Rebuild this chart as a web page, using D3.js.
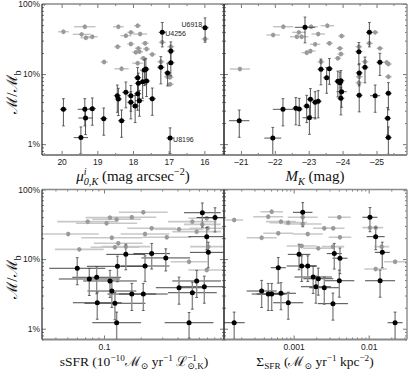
<!DOCTYPE html>
<html><head><meta charset="utf-8">
<script src="https://cdn.jsdelivr.net/npm/d3@7"></script>
<style>body{margin:0;background:#fff}svg{display:block}</style>
</head><body>
<svg id="c" width="415" height="378"></svg>
<script>
// ---------- DATA ----------
// Each black entry: [x, M/Mb (%), x error, fractional y error]; gray entry: [x, M/Mb (%), x error]
// Top-left: x = mu^i_{0,K} (mag arcsec^-2)
const muBlack = [
 [15.98,45.9,0.1,0.38],[17.18,39.4,0.1,0.38],[16.94,21.3,0.1,0.35],[16.94,14.5,0.1,0.35],
 [17.22,12.5,0.1,0.42],[17.64,11.8,0.1,0.4],[17.68,11.4,0.12,0.4],[17.03,10.4,0.1,0.35],
 [17.87,8.87,0.1,0.4],[17.62,7.96,0.1,0.4],[17.73,7.78,0.15,0.42],[17.85,7.38,0.1,0.4],
 [18.20,5.50,0.1,0.4],[17.87,5.25,0.1,0.42],[18.44,4.91,0.1,0.42],[18.06,4.91,0.1,0.4],
 [17.46,4.45,0.1,0.42],[18.41,4.41,0.1,0.42],[17.82,4.17,0.12,0.4],[18.06,3.95,0.1,0.42],
 [17.94,3.50,0.1,0.42],[19.14,3.21,0.1,0.42],[19.95,3.14,0.1,0.42],[19.35,3.14,0.2,0.42],
 [19.33,2.36,0.2,0.42],[18.82,2.31,0.1,0.42],[18.32,2.16,0.1,0.42],[19.46,1.24,0.2,0.42],
 [16.96,1.22,0.1,0.4]
];
const muGray = [
 [19.95,40.2,0.15],[19.35,47.4,0.3],[19.44,36.9,0.25],[19.32,33.0,0.15],[19.14,34.1,0.15],
 [18.81,14.9,0.1],[18.43,24.6,0.1],[18.41,47.4,0.15],[18.32,11.9,0.2],[18.20,35.3,0.15],
 [18.06,39.4,0.1],[18.06,26.9,0.1],[17.92,20.5,0.1],[17.87,49.0,0.1],[17.85,23.3,0.1],
 [17.87,14.3,0.15],[17.80,37.3,0.2],[17.82,20.9,0.1],[17.71,16.8,0.1],[17.66,27.5,0.1],
 [17.62,22.8,0.1],[17.46,19.1,0.1],[17.22,15.0,0.1],[17.18,28.4,0.1],[17.03,9.17,0.1],
 [16.96,9.0,0.1],[16.96,7.15,0.1],[16.94,24.6,0.1],[15.98,31.7,0.1]
];
const muLabels = [["U6918",15.98,45.9,"end"],["U4256",17.18,39.4,"start"],["U8196",16.96,1.22,"start"]];

// Top-right: x = M_K (mag)
const mkBlack = [
 [-22.89,46.5,0.3,0.4],[-24.79,39.4,0.1,0.38],[-24.48,20.9,0.1,0.35],[-25.10,14.7,0.1,0.35],
 [-24.66,12.5,0.1,0.4],[-23.61,11.9,0.1,0.4],[-23.36,11.7,0.1,0.4],[-24.49,10.4,0.1,0.35],
 [-23.53,8.87,0.1,0.4],[-23.95,8.04,0.1,0.4],[-23.86,7.88,0.1,0.4],[-23.92,7.53,0.1,0.42],
 [-23.97,5.60,0.15,0.4],[-25.35,5.32,0.1,0.42],[-24.49,4.98,0.1,0.42],[-24.96,4.91,0.15,0.42],
 [-23.95,4.51,0.1,0.42],[-23.05,4.37,0.1,0.42],[-23.28,4.09,0.1,0.42],[-23.19,3.95,0.1,0.42],
 [-22.94,3.50,0.1,0.42],[-22.62,3.25,0.1,0.42],[-22.72,3.17,0.1,0.42],[-22.24,3.14,0.3,0.42],
 [-23.02,2.38,0.2,0.42],[-25.33,2.34,0.1,0.42],[-20.95,2.16,0.3,0.42],[-21.94,1.22,0.25,0.42],
 [-25.35,1.24,0.1,0.42]
];
const mkGray = [
 [-20.97,11.8,0.3],[-21.95,36.1,0.2],[-22.25,47.4,0.3],[-22.65,34.1,0.2],[-22.71,39.4,0.2],
 [-23.07,47.4,0.2],[-23.55,49.0,0.2],[-22.79,34.1,0.2],[-22.94,20.2,0.15],[-23.05,21.3,0.15],
 [-23.19,26.6,0.15],[-23.28,37.3,0.2],[-23.36,15.0,0.1],[-23.61,27.5,0.1],[-23.86,16.8,0.1],
 [-23.92,23.3,0.1],[-23.95,19.3,0.1],[-23.97,34.9,0.1],[-24.48,24.6,0.1],[-24.48,7.53,0.1],
 [-24.49,9.17,0.1],[-24.66,15.0,0.1],[-24.79,27.5,0.1],[-24.96,39.4,0.1],[-25.10,23.3,0.1],
 [-25.30,14.7,0.1],[-25.35,13.9,0.1],[-25.35,9.17,0.1]
];

// Bottom-left: x = sSFR (x error in dex)
const ssfrBlack = [
 [0.0604,7.38,0.23,0.42],[0.0758,5.18,0.25,0.42],[0.0871,5.48,0.2,0.42],[0.0881,2.36,0.2,0.42],
 [0.112,4.85,0.22,0.42],[0.116,3.48,0.2,0.42],[0.123,2.32,0.25,0.42],[0.127,1.22,0.2,0.42],
 [0.129,7.88,0.25,0.4],[0.151,11.7,0.16,0.4],[0.169,3.15,0.2,0.42],[0.210,3.15,0.2,0.42],
 [0.217,7.96,0.2,0.4],[0.246,12.0,0.15,0.4],[0.321,10.4,0.2,0.35],[0.412,3.88,0.19,0.42],
 [0.498,1.22,0.2,0.4],[0.530,3.29,0.2,0.42],[0.575,4.85,0.2,0.42],[0.640,46.4,0.15,0.38],
 [0.664,4.01,0.2,0.42],[0.695,21.0,0.15,0.35],[0.716,12.5,0.15,0.4],[0.813,39.6,0.15,0.38]
];
const ssfrGray = [
 [0.0509,22.9,0.25],[0.0628,13.8,0.2],[0.0735,34.5,0.25],[0.105,32.7,0.25],[0.112,39.4,0.2],
 [0.116,20.3,0.25],[0.123,14.8,0.2],[0.127,37.3,0.2],[0.131,16.9,0.2],[0.151,15.1,0.2],
 [0.169,39.9,0.2],[0.210,47.0,0.2],[0.217,22.9,0.2],[0.246,27.7,0.2],[0.327,20.6,0.2],
 [0.412,26.8,0.2],[0.498,9.18,0.15],[0.530,34.5,0.2],[0.575,24.8,0.2],[0.640,31.6,0.15],
 [0.695,38.6,0.15],[0.695,6.97,0.15],[0.716,15.1,0.15],[0.708,27.7,0.15]
];

// Bottom-right: x = Sigma_SFR (x error in dex)
const sigBlack = [
 [1.61e-4,1.22,0.14,0.42],[3.74e-4,3.48,0.2,0.42],[4.58e-4,3.15,0.22,0.42],[5.09e-4,3.15,0.2,0.42],
 [6.24e-4,7.52,0.1,0.4],[6.77e-4,3.23,0.2,0.42],[8.47e-4,2.36,0.2,0.42],[1.18e-3,11.7,0.15,0.4],
 [1.28e-3,7.96,0.2,0.4],[1.32e-3,47.0,0.13,0.38],[1.54e-3,7.96,0.12,0.4],[1.82e-3,5.53,0.25,0.42],
 [1.98e-3,4.01,0.2,0.42],[2.13e-3,5.23,0.2,0.42],[2.56e-3,3.88,0.2,0.42],[3.34e-3,2.29,0.2,0.42],
 [3.48e-3,12.0,0.1,0.4],[4.06e-3,4.89,0.2,0.42],[4.14e-3,10.3,0.1,0.4],[0.0104,39.9,0.1,0.38],
 [0.0124,21.0,0.12,0.35],[0.0142,4.89,0.2,0.42],[0.0152,12.5,0.1,0.4],[0.0225,1.22,0.1,0.42]
];
const sigGray = [
 [1.61e-4,36.5,0.12],[3.74e-4,20.3,0.2],[4.58e-4,40.7,0.2],[5.09e-4,48.0,0.15],[6.24e-4,23.5,0.2],
 [6.77e-4,34.5,0.2],[8.47e-4,33.4,0.25],[1.32e-3,31.9,0.25],[1.32e-3,39.9,0.2],[1.28e-3,15.4,0.2],
 [1.54e-3,22.9,0.2],[2.13e-3,14.3,0.2],[2.56e-3,27.7,0.15],[3.37e-3,27.7,0.15],[3.34e-3,15.1,0.15],
 [4.06e-3,39.9,0.15],[4.14e-3,20.6,0.15],[0.0104,28.3,0.1],[0.0124,28.3,0.1],[0.0149,15.1,0.1],
 [0.0124,7.21,0.15],[0.0225,9.18,0.15]
];
const grayYErr = 0.08;

// Tick values
const yMajor = [1,10,100];
const yLabels = ["1%","10%","100%"];
const yMinor = [0.7,0.8,0.9,2,3,4,5,6,7,8,9,20,30,40,50,60,70,80,90];
const muMajor = [20,19,18,17,16];
const muMinor = [20.5,19.5,18.5,17.5,16.5,15.5];
const mkMajor = [-21,-22,-23,-24,-25];
const mkMinor = [-20.5,-21.5,-22.5,-23.5,-24.5,-25.5];
const ssfrMajor = [0.1];
const ssfrMinor = [0.04,0.05,0.06,0.07,0.08,0.09,0.2,0.3,0.4,0.5,0.6,0.7,0.8,0.9];
const sigMajor = [0.001,0.01];
const sigMinor = [2e-4,3e-4,4e-4,5e-4,6e-4,7e-4,8e-4,9e-4,2e-3,3e-3,4e-3,5e-3,6e-3,7e-3,8e-3,9e-3,0.02,0.03];

// ---------- LAYOUT ----------
const svg = d3.select('#c');
const P = {tl:[42,224,4,155], tr:[224,407,4,155], bl:[42,224,189.5,339.5], br:[224,407,189.5,339.5]};
const yTop = d3.scaleLog().domain([0.7,100]).range([155,4]);
const yBot = d3.scaleLog().domain([0.7,100]).range([339.5,189.5]);
const xTL = d3.scaleLinear().domain([20.55,15.45]).range([42,224]);
const xTR = d3.scaleLinear().domain([-20.5,-25.9]).range([224,407]);
const xBL = d3.scaleLog().domain([0.03105,0.9629]).range([42,224]);
const xBR = d3.scaleLog().domain([1.178e-4,0.03243]).range([224,407]);

const TICKFONT = "'Liberation Sans', Arial, sans-serif";
const MATHFONT = "'Liberation Serif','DejaVu Serif',serif";

function panel(id, xs, ys, black, gray, logX, o){
  const [x0,x1,y0,y1] = P[id];
  svg.append('clipPath').attr('id','cl'+id).append('rect')
    .attr('x',x0).attr('y',y0).attr('width',x1-x0).attr('height',y1-y0);
  const g = svg.append('g').attr('clip-path',`url(#cl${id})`);
  const xl = d => logX ? xs(d[0]/Math.pow(10,d[2])) : xs(d[0]-d[2]);
  const xr = d => logX ? xs(d[0]*Math.pow(10,d[2])) : xs(d[0]+d[2]);
  // gray errors
  g.selectAll(null).data(gray).join('line')
    .attr('x1',xl).attr('x2',xr).attr('y1',d=>ys(d[1])).attr('y2',d=>ys(d[1]))
    .attr('stroke',o.gxc).attr('stroke-width',o.gxw);
  g.selectAll(null).data(gray).join('line')
    .attr('x1',d=>xs(d[0])).attr('x2',d=>xs(d[0]))
    .attr('y1',d=>ys(d[1]*(1-grayYErr))).attr('y2',d=>ys(d[1]*(1+grayYErr)))
    .attr('stroke','#b8b8b8').attr('stroke-width',1.2);
  g.selectAll(null).data(gray).join('circle')
    .attr('cx',d=>xs(d[0])).attr('cy',d=>ys(d[1])).attr('r',2.2).attr('fill','#9a9a9a');
  // black errors
  g.selectAll(null).data(black).join('line')
    .attr('x1',xl).attr('x2',xr).attr('y1',d=>ys(d[1])).attr('y2',d=>ys(d[1]))
    .attr('stroke',o.bxc).attr('stroke-width',o.bxw);
  g.selectAll(null).data(black).join('line')
    .attr('x1',d=>xs(d[0])).attr('x2',d=>xs(d[0]))
    .attr('y1',d=>ys(d[1]*(1-d[3]))).attr('y2',d=>ys(d[1]*(1+d[3])))
    .attr('stroke',o.byc).attr('stroke-width',o.byw);
  ['lo','hi'].forEach(k=>{
    g.selectAll(null).data(black).join('line')
      .attr('x1',d=>xs(d[0])-1.4).attr('x2',d=>xs(d[0])+1.4)
      .attr('y1',d=>ys(d[1]*(k==='lo'?1-d[3]:1+d[3]))).attr('y2',d=>ys(d[1]*(k==='lo'?1-d[3]:1+d[3])))
      .attr('stroke','#444').attr('stroke-width',0.8);
  });
  g.selectAll(null).data(black).join('circle')
    .attr('cx',d=>xs(d[0])).attr('cy',d=>ys(d[1])).attr('r',2.5).attr('fill','#000');

  // axes
  const ax = svg.append('g').attr('font-family',TICKFONT);
  const mk = (gen, tr) => { const a = ax.append('g').attr('transform',tr).call(gen); a.select('.domain').remove(); return a; };
  const fmtX = o.xfmt;
  const bM = mk(d3.axisBottom(xs).tickValues(o.xMajor).tickSize(-4).tickPadding(4).tickFormat(fmtX), `translate(0,${y1})`);
  mk(d3.axisBottom(xs).tickValues(o.xMinor).tickSize(-2).tickFormat(''), `translate(0,${y1})`);
  mk(d3.axisTop(xs).tickValues(o.xMajor).tickSize(-4).tickFormat(''), `translate(0,${y0})`);
  mk(d3.axisTop(xs).tickValues(o.xMinor).tickSize(-2).tickFormat(''), `translate(0,${y0})`);
  const lM = mk(d3.axisLeft(ys).tickValues(yMajor).tickSize(-4).tickPadding(2)
      .tickFormat((d,i)=>o.ylab ? yLabels[i] : ''), `translate(${x0},0)`);
  mk(d3.axisLeft(ys).tickValues(yMinor).tickSize(-2).tickFormat(''), `translate(${x0},0)`);
  mk(d3.axisRight(ys).tickValues(yMajor).tickSize(-4).tickFormat(''), `translate(${x1},0)`);
  mk(d3.axisRight(ys).tickValues(yMinor).tickSize(-2).tickFormat(''), `translate(${x1},0)`);
  ax.selectAll('.tick line').attr('stroke','#555').attr('stroke-width',0.8);
  ax.selectAll('.tick text').attr('font-size',8.5).attr('fill','#222');
  // frame
  const fr = svg.append('g');
  fr.append('line').attr('x1',x0).attr('x2',x1).attr('y1',y0).attr('y2',y0).attr('stroke','#8a8a8a').attr('stroke-width',1.6);
  fr.append('line').attr('x1',x0).attr('x2',x1).attr('y1',y1).attr('y2',y1).attr('stroke','#8a8a8a').attr('stroke-width',1.8);
  fr.append('line').attr('x1',x1).attr('x2',x1).attr('y1',y0).attr('y2',y1).attr('stroke','#8a8a8a').attr('stroke-width',1.4);
  fr.append('line').attr('x1',x0).attr('x2',x0).attr('y1',y0).attr('y2',y1).attr('stroke','#111').attr('stroke-width',1.1);
}

const topOpt = {gxc:'#c2c2c2',gxw:1.4,bxc:'#444',bxw:0.9,byc:'#444',byw:0.9};
const botOpt = {gxc:'#c8c8c8',gxw:1.6,bxc:'#333',bxw:0.9,byc:'#8a8a8a',byw:1.4};

panel('tl', xTL, yTop, muBlack, muGray, false, Object.assign({}, topOpt,
  {xMajor:muMajor, xMinor:muMinor, xfmt:d=>String(d), ylab:true}));
panel('tr', xTR, yTop, mkBlack, mkGray, false, Object.assign({}, topOpt,
  {xMajor:mkMajor, xMinor:mkMinor, xfmt:d=>'\u2013'+Math.abs(d), ylab:false}));
panel('bl', xBL, yBot, ssfrBlack, ssfrGray, true, Object.assign({}, botOpt,
  {xMajor:ssfrMajor, xMinor:ssfrMinor, xfmt:d=>String(d), ylab:true}));
panel('br', xBR, yBot, sigBlack, sigGray, true, Object.assign({}, botOpt,
  {xMajor:sigMajor, xMinor:sigMinor, xfmt:d=>String(d), ylab:false}));

// galaxy labels
svg.append('g').selectAll('text').data(muLabels).join('text')
  .attr('x',d=>xTL(d[1]) + (d[3]==='end' ? -3 : 3))
  .attr('y',d=>yTop(d[2]) + (d[3]==='end' ? -1 : 4))
  .attr('text-anchor',d=>d[3]).attr('font-family',TICKFONT).attr('font-size',7)
  .attr('fill','#222').text(d=>d[0]);

// ---------- MATH TEXT ----------
function mathText(sel, parts, size){
  let cur = 0;
  let lastSupNode = null;
  parts.forEach(p=>{
    const [t, mode] = p;
    const ts = sel.append('tspan').text(t);
    let target = 0, small = false;
    if (mode.includes('sup')) { target = -size*0.4; small = true; }
    else if (mode.includes('sub')) { target = size*0.25; small = true; }
    ts.attr('dy', target - cur); cur = target;
    if (small) ts.attr('font-size', size*0.68);
    if (mode.includes('i')) ts.attr('font-style','italic');
    if (mode.includes('back') && lastSupNode) ts.attr('dx', -lastSupNode.getComputedTextLength());
    if (mode.includes('sup')) lastSupNode = ts.node();
  });
}
function title(x, y, parts, size, rot){
  const t = svg.append('text').attr('font-family',MATHFONT).attr('font-size',size)
    .attr('fill','#111').attr('text-anchor','middle')
    .attr('transform', rot ? `translate(${x},${y}) rotate(-90)` : `translate(${x},${y})`);
  mathText(t, parts, size);
}
title(133, 181, [['μ','i'],['i','isup'],['0,K','isubback'],[' (mag arcsec','n'],['−2','sup'],[')','n']], 15);
title(315, 181, [['M','i'],['K','isub'],[' (mag)','n']], 15);
title(134, 366, [['sSFR (10','n'],['−10','sup'],['\u2133','n'],['⊙','sub'],[' yr','n'],['−1','sup'],[' \u2112','n'],['−1','sup'],['⊙,K','subback'],[')','n']], 13.5);
title(315, 366, [['Σ','n'],['SFR','sub'],[' (\u2133','n'],['⊙','sub'],[' yr','n'],['−1','sup'],[' kpc','n'],['−2','sup'],[')','n']], 13.5);
title(17, 92, [['\u2133/\u2133','n'],['b','sub']], 15, true);
title(17, 277, [['\u2133/\u2133','n'],['b','sub']], 15, true);
</script>
</body></html>
